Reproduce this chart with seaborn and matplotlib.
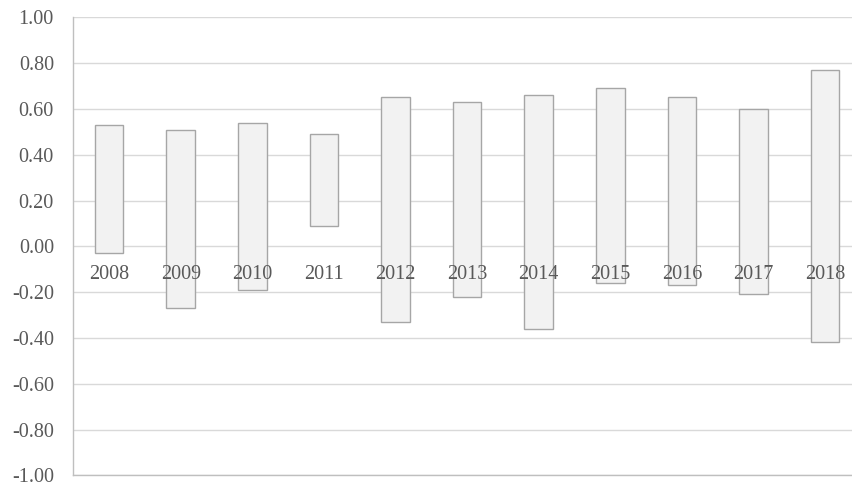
import numpy as np
import pandas as pd
import matplotlib
matplotlib.use("Agg")
import matplotlib.pyplot as plt
import seaborn as sns

# ── Data: floating bars (low → high) per year ────────────────
years = ["2008", "2009", "2010", "2011", "2012", "2013",
         "2014", "2015", "2016", "2017", "2018"]
highs = [0.53, 0.51, 0.54, 0.49, 0.65, 0.63, 0.66, 0.69, 0.65, 0.60, 0.77]
lows = [-0.03, -0.27, -0.19, 0.09, -0.33, -0.22, -0.36, -0.16, -0.17, -0.21, -0.42]
yticks = [1.0, 0.8, 0.6, 0.4, 0.2, 0.0, -0.2, -0.4, -0.6, -0.8, -1.0]

df = pd.DataFrame({"year": years, "high": highs, "low": lows})
df["span"] = df["high"] - df["low"]

sns.set_style("white")
plt.rcParams['font.family'] = ['Liberation Serif', 'DejaVu Serif']

fig = plt.figure(figsize=(8.53, 4.86), dpi=100)
ax = fig.add_axes([0.086, 0.022, 0.914, 0.9424])

sns.barplot(data=df, x="year", y="span", bottom=df["low"].values,
            color="#F2F2F2", edgecolor="#A6A6A6", linewidth=1.0,
            width=0.4, saturation=1, ax=ax, zorder=3)

# ── Axes styling ─────────────────────────────────────────────
ax.set_ylim(-1.0, 1.0)
ax.set_xlim(-0.5, 10.39)
ax.set_yticks(yticks)
ax.set_yticklabels([f"{v:.2f}" for v in yticks], fontsize=14.5, color="#595959")
ax.tick_params(axis="y", length=0, pad=14)
ax.set_xticks([])
ax.set_xlabel("")
ax.set_ylabel("")
ax.grid(axis="y", color="#D9D9D9", linewidth=1.0, zorder=0)
ax.set_axisbelow(True)

for side in ["top", "right"]:
    ax.spines[side].set_visible(False)
ax.spines["left"].set_color("#BFBFBF")
ax.spines["left"].set_linewidth(1.0)
ax.spines["bottom"].set_color("#BFBFBF")
ax.spines["bottom"].set_linewidth(1.0)

# category labels just below zero
for i, yr in enumerate(years):
    ax.text(i, -0.08, yr, ha="center", va="top", fontsize=14.5,
            color="#595959", zorder=5)

fig.savefig("out.png", dpi=100)
